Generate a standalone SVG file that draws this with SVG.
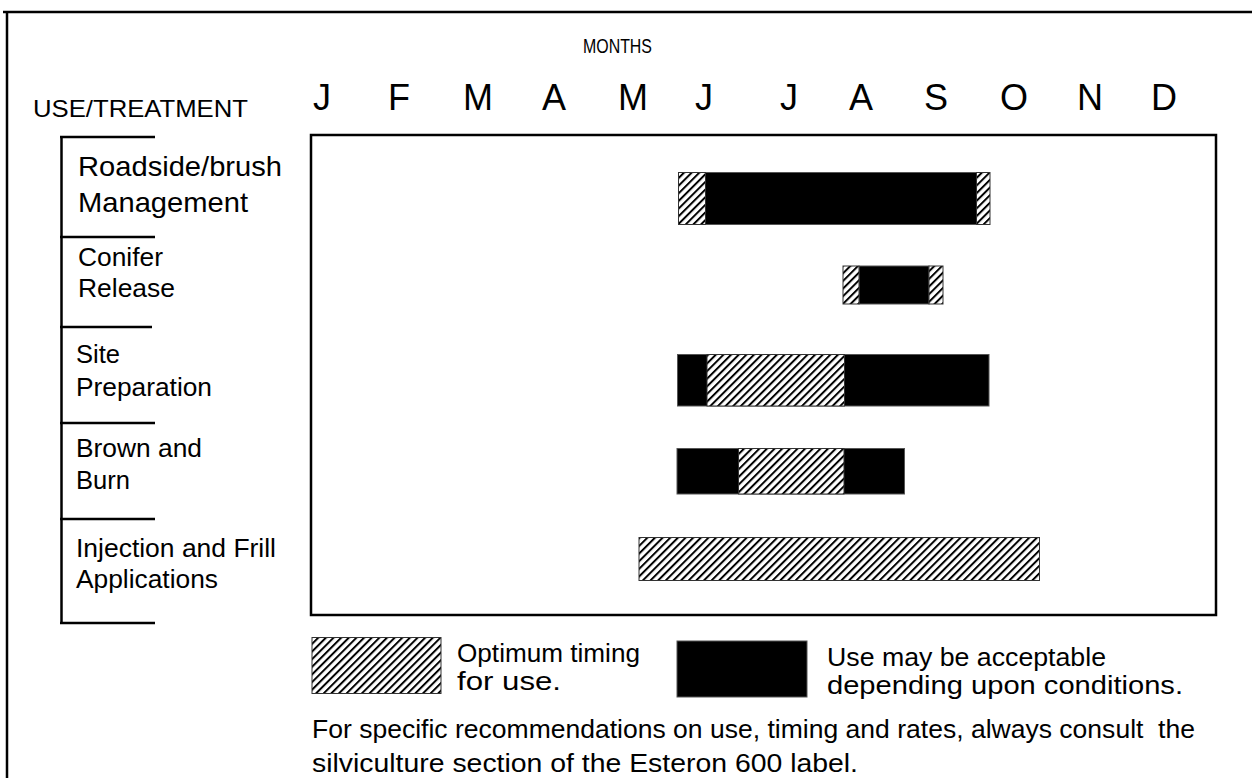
<svg xmlns="http://www.w3.org/2000/svg" width="1252" height="778" viewBox="0 0 1252 778">
<style>
text{font-family:"Liberation Sans",Arial,sans-serif;fill:#000}
.lbl{font-size:26px}
.big{font-size:28px}
.mon{font-size:36px;text-anchor:middle}
.leg{font-size:25px}
.blk{fill:#000;stroke:#555;stroke-width:1}
.hat{fill:url(#hatch);stroke:#333;stroke-width:1}
.ln{stroke:#000;stroke-width:2.5;fill:none}
</style>
<defs>
<pattern id="hatch" patternUnits="userSpaceOnUse" width="5.4" height="5.4" patternTransform="rotate(45)">
<rect width="5.4" height="5.4" fill="#fff"/>
<line x1="1" y1="0" x2="1" y2="5.4" stroke="#000" stroke-width="2"/>
</pattern>
</defs>
<rect width="1252" height="778" fill="#fff"/>
<g id="frame">
<line class="ln" x1="3" y1="12" x2="1252" y2="12"/>
<line class="ln" x1="7" y1="11" x2="7" y2="778" stroke-width="2"/>
</g>
<g id="header">
<text x="583" y="53" font-size="20" textLength="69" lengthAdjust="spacingAndGlyphs">MONTHS</text>
<text x="33" y="117" font-size="24" textLength="215" lengthAdjust="spacingAndGlyphs">USE/TREATMENT</text>
<text class="mon" x="322" y="110">J</text>
<text class="mon" x="399" y="110">F</text>
<text class="mon" x="478" y="110">M</text>
<text class="mon" x="554" y="110">A</text>
<text class="mon" x="633" y="110">M</text>
<text class="mon" x="704" y="110">J</text>
<text class="mon" x="789" y="110">J</text>
<text class="mon" x="861" y="110">A</text>
<text class="mon" x="936" y="110">S</text>
<text class="mon" x="1014" y="110">O</text>
<text class="mon" x="1090" y="110">N</text>
<text class="mon" x="1164" y="110">D</text>
</g>
<g id="chart-box">
<rect x="311" y="135" width="905" height="480" fill="none" stroke="#000" stroke-width="2.5"/>
</g>
<g id="connectors">
<line class="ln" x1="61.5" y1="136" x2="61.5" y2="624"/>
<line class="ln" x1="60" y1="137" x2="155" y2="137"/>
<line class="ln" x1="60" y1="237" x2="155" y2="237"/>
<line class="ln" x1="60" y1="327" x2="152" y2="327"/>
<line class="ln" x1="60" y1="423" x2="155" y2="423"/>
<line class="ln" x1="60" y1="519" x2="155" y2="519"/>
<line class="ln" x1="60" y1="623" x2="155" y2="623"/>
</g>
<g id="row-roadside">
<text class="big" x="78" y="176" textLength="204" lengthAdjust="spacingAndGlyphs">Roadside/brush</text>
<text class="big" x="78" y="212" textLength="170" lengthAdjust="spacingAndGlyphs">Management</text>
<rect class="blk" x="705.5" y="172.5" width="271" height="52"/>
<rect class="hat" x="678.5" y="172.5" width="27" height="52"/>
<rect class="hat" x="976.5" y="172.5" width="13.5" height="52"/>
</g>
<g id="row-conifer">
<text class="lbl" x="78" y="266" textLength="85" lengthAdjust="spacingAndGlyphs">Conifer</text>
<text class="lbl" x="78" y="297" textLength="97" lengthAdjust="spacingAndGlyphs">Release</text>
<rect class="blk" x="859" y="266" width="70" height="38"/>
<rect class="hat" x="843" y="266" width="16" height="38"/>
<rect class="hat" x="929" y="266" width="14" height="38"/>
</g>
<g id="row-site">
<text class="lbl" x="76" y="363" textLength="44" lengthAdjust="spacingAndGlyphs">Site</text>
<text class="lbl" x="76" y="396" textLength="136" lengthAdjust="spacingAndGlyphs">Preparation</text>
<rect class="blk" x="677.5" y="354.5" width="311.5" height="51.5"/>
<rect class="hat" x="707" y="354.5" width="137.5" height="51.5"/>
</g>
<g id="row-brown">
<text class="lbl" x="76" y="457" textLength="126" lengthAdjust="spacingAndGlyphs">Brown and</text>
<text class="lbl" x="76" y="489" textLength="54" lengthAdjust="spacingAndGlyphs">Burn</text>
<rect class="blk" x="677" y="448.5" width="227.5" height="45.5"/>
<rect class="hat" x="738.5" y="448.5" width="105.5" height="45.5"/>
</g>
<g id="row-injection">
<text class="lbl" x="76" y="557" textLength="200" lengthAdjust="spacingAndGlyphs">Injection and Frill</text>
<text class="lbl" x="76" y="588" textLength="142" lengthAdjust="spacingAndGlyphs">Applications</text>
<rect class="hat" x="639" y="537.5" width="400.5" height="43"/>
</g>
<g id="legend">
<rect class="hat" x="312" y="637.5" width="129" height="56"/>
<text class="leg" x="457" y="662" textLength="183" lengthAdjust="spacingAndGlyphs">Optimum timing</text>
<text class="leg" x="457" y="690" textLength="104" lengthAdjust="spacingAndGlyphs">for use.</text>
<rect class="blk" x="677" y="641" width="130" height="56"/>
<text class="leg" x="827" y="666" textLength="279" lengthAdjust="spacingAndGlyphs">Use may be acceptable</text>
<text class="leg" x="827" y="694" textLength="356" lengthAdjust="spacingAndGlyphs">depending upon conditions.</text>
</g>
<g id="footer">
<text class="leg" x="312" y="738" style="white-space:pre" textLength="883" lengthAdjust="spacingAndGlyphs">For specific recommendations on use, timing and rates, always consult  the</text>
<text class="leg" x="312" y="772" textLength="546" lengthAdjust="spacingAndGlyphs">silviculture section of the Esteron 600 label.</text>
</g>
</svg>
